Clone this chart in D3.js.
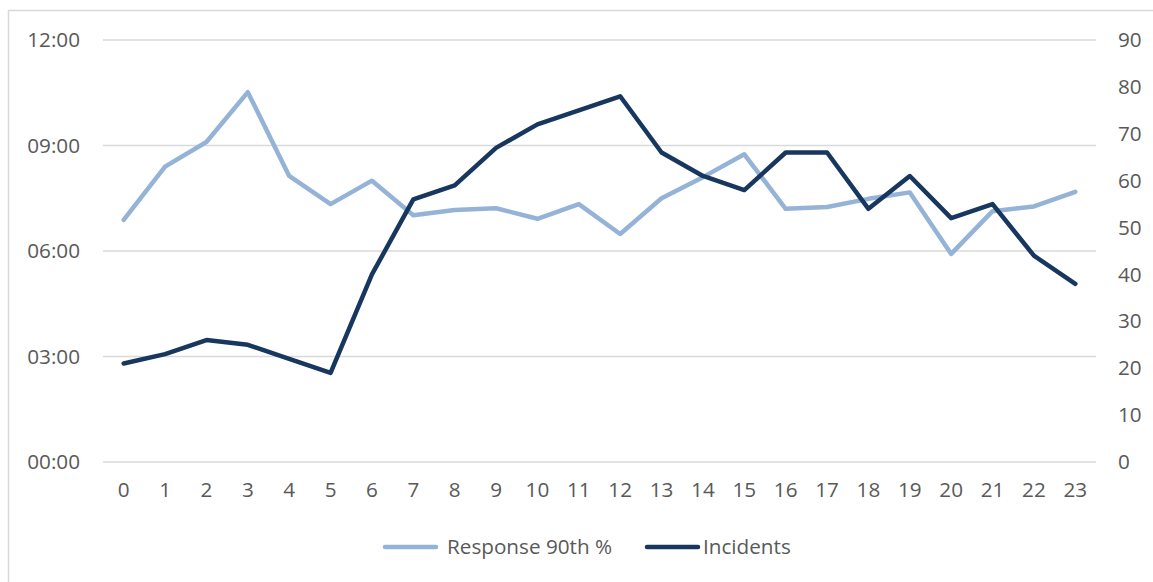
<!DOCTYPE html>
<html>
<head>
<meta charset="utf-8">
<script src="https://cdn.jsdelivr.net/npm/d3@7"></script>
<style>
  html, body { margin: 0; padding: 0; background: #fff; }
  svg { display: block; }
  text { font-family: "Open Sans", "Liberation Sans", sans-serif; fill: #595959; }
</style>
</head>
<body>
<svg id="chart" width="1153" height="582"></svg>
<script>
// ---- data ----
const hours = ["0","1","2","3","4","5","6","7","8","9","10","11","12","13","14","15","16","17","18","19","20","21","22","23"];
const response90 = ["06:53","08:24","09:06","10:31","08:08","07:20","08:00","07:01","07:10","07:13","06:55","07:20","06:29","07:30","08:06","08:45","07:12","07:15","07:29","07:40","05:55","07:08","07:16","07:41"];
const incidents = [21,23,26,25,22,19,40,56,59,67,72,75,78,66,61,58,66,66,54,61,52,55,44,38];
const leftTicks = ["00:00","03:00","06:00","09:00","12:00"];
const rightTicks = [0,10,20,30,40,50,60,70,80,90];
const seriesNames = ["Response 90th %","Incidents"];
const colors = ["#95b3d7","#17375e"];

const toSec = s => { const [m, ss] = s.split(":").map(Number); return m * 60 + ss; };
const fmt = v => { const m = Math.floor(v / 60), s = Math.round(v % 60); return String(m).padStart(2,"0") + ":" + String(s).padStart(2,"0"); };

const svg = d3.select("#chart");
const plotLeft = 103, plotRight = 1096, plotTop = 40, plotBottom = 462;
const fs = 20.7;

// border
svg.append("rect").attr("x", 8.5).attr("y", 10.5).attr("width", 1200).attr("height", 700)
  .attr("fill", "none").attr("stroke", "#d9d9d9").attr("stroke-width", 1.5);

const x = d3.scaleBand().domain(hours).range([plotLeft, plotRight]);
const yL = d3.scaleLinear().domain([0, toSec("12:00")]).range([plotBottom, plotTop]);
const yR = d3.scaleLinear().domain([0, 90]).range([plotBottom, plotTop]);

// gridlines
svg.append("g").selectAll("line").data(leftTicks.map(toSec)).join("line")
  .attr("x1", plotLeft).attr("x2", plotRight)
  .attr("y1", d => yL(d)).attr("y2", d => yL(d))
  .attr("stroke", "#d9d9d9").attr("stroke-width", 1.5);

// left axis
const axL = svg.append("g").attr("transform", `translate(${plotLeft},0)`)
  .call(d3.axisLeft(yL).tickValues(leftTicks.map(toSec)).tickFormat(fmt).tickSize(0).tickPadding(23));
axL.select(".domain").remove();
axL.selectAll("text").attr("font-size", fs).style("fill", "#595959").attr("font-family", "Open Sans");

// right axis
const axR = svg.append("g").attr("transform", `translate(${plotRight},0)`)
  .call(d3.axisRight(yR).tickValues(rightTicks).tickSize(0).tickPadding(22));
axR.select(".domain").remove();
axR.selectAll("text").attr("font-size", fs).style("fill", "#595959").attr("font-family", "Open Sans");

// bottom axis
const axB = svg.append("g").attr("transform", `translate(0,${plotBottom})`)
  .call(d3.axisBottom(x).tickSize(0).tickPadding(20));
axB.select(".domain").remove();
axB.selectAll("text").attr("font-size", fs).style("fill", "#595959").attr("font-family", "Open Sans");

const cx = d => x(d) + x.bandwidth() / 2;

// lines
const lineL = d3.line().x((d, i) => cx(hours[i])).y(d => yL(toSec(d)));
const lineR = d3.line().x((d, i) => cx(hours[i])).y(d => yR(d));

svg.append("path").datum(response90).attr("d", lineL)
  .attr("fill", "none").attr("stroke", colors[0]).attr("stroke-width", 4.5)
  .attr("stroke-linejoin", "round").attr("stroke-linecap", "round");
svg.append("path").datum(incidents).attr("d", lineR)
  .attr("fill", "none").attr("stroke", colors[1]).attr("stroke-width", 4.5)
  .attr("stroke-linejoin", "round").attr("stroke-linecap", "round");

// legend
const legendY = 547;
const legendItems = [
  { name: seriesNames[0], color: colors[0], x1: 385, x2: 436, tx: 447 },
  { name: seriesNames[1], color: colors[1], x1: 647, x2: 698, tx: 703 }
];
const lg = svg.append("g");
legendItems.forEach(it => {
  lg.append("line").attr("x1", it.x1).attr("x2", it.x2).attr("y1", legendY).attr("y2", legendY)
    .attr("stroke", it.color).attr("stroke-width", 4.5).attr("stroke-linecap", "round");
  lg.append("text").attr("x", it.tx).attr("y", legendY).attr("dy", "0.35em")
    .attr("font-size", fs).text(it.name);
});
</script>
</body>
</html>
